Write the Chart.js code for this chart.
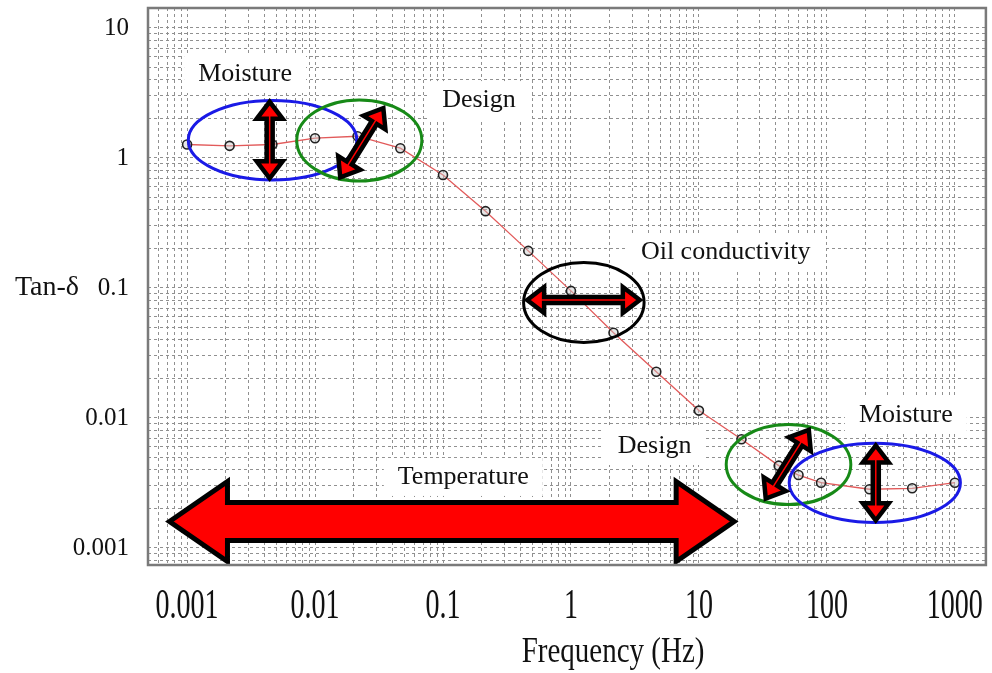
<!DOCTYPE html>
<html>
<head>
<meta charset="utf-8">
<title>Tan-δ against frequency</title>
<script src="https://cdn.jsdelivr.net/npm/chart.js@4.4.1/dist/chart.umd.min.js"></script>
<style>
    html, body { margin: 0; padding: 0; background: #fff; }
    #wrap { width: 992px; height: 673px; }
</style>
</head>
<body>
<div id="wrap"><canvas id="tanDeltaChart" width="992" height="673"></canvas></div>
<script>
/* Dielectric frequency response: tan-delta vs frequency (log-log) */

// measured sweep
const frequencyHz = [0.001, 0.00215, 0.00464, 0.01, 0.0215, 0.0464, 0.1, 0.215, 0.464, 1,
                     2.15, 4.64, 10, 21.5, 42, 60, 90, 215, 464, 1000];
const tanDelta = [1.27, 1.24, 1.27, 1.42, 1.47, 1.19, 0.74, 0.39, 0.193, 0.095,
                  0.0453, 0.0227, 0.0114, 0.00686, 0.0043, 0.00364, 0.00318, 0.00283, 0.00288, 0.00318];

// decade labels
const xTickValues = [0.001, 0.01, 0.1, 1, 10, 100, 1000];
const xTickLabels = ['0.001', '0.01', '0.1', '1', '10', '100', '1000'];
const yTickValues = [0.001, 0.01, 0.1, 1, 10];
const yTickLabels = ['0.001', '0.01', '0.1', '1', '10'];

(function() {
    'use strict';

    const X_MIN = 0.000495, X_MAX = 1748;
    const Y_MIN = 0.00074, Y_MAX = 14.25;
    const SERIF = '"Liberation Serif", "Times New Roman", serif';

    // influence regions, in data units (frequency range, tan-delta range)
    const regionRings = [
        { x: [0.000995, 0.0218], y: [0.660, 2.84], color: '#1a1ae6' },
        { x: [0.0070, 0.0702], y: [0.648, 2.87], color: '#178a17' },
        { x: [0.415, 3.83], y: [0.0371, 0.161], color: '#000000' },
        { x: [15.9, 158], y: [0.0021, 0.00915], color: '#178a17' },
        { x: [49.4, 1135], y: [0.00153, 0.00657], color: '#1a1ae6' }
    ];

    // double arrows, tip to tip
    const factorArrows = [
        { from: [0.00442, 0.654], to: [0.00442, 2.89], big: false },
        { from: [0.0152, 0.671], to: [0.0354, 2.56], big: false },
        { from: [0.425, 0.0809], to: [3.69, 0.0809], big: false },
        { from: [32.1, 0.00227], to: [74.8, 0.00857], big: false },
        { from: [241, 0.00153], to: [241, 0.00657], big: false },
        { from: [0.000673, 0.0016], to: [20.4, 0.0016], big: true }
    ];

    const factorLabels = [
        { text: 'Moisture', at: [0.00284, 4.43] },
        { text: 'Design', at: [0.191, 2.79] },
        { text: 'Oil conductivity', at: [16.2, 0.189] },
        { text: 'Temperature', at: [0.144, 0.00352] },
        { text: 'Design', at: [4.5, 0.00609] },
        { text: 'Moisture', at: [414, 0.01055] }
    ];

    // 1..9 x 10^n lines inside the range
    function logGrid(min, max) {
        const ticks = [];
        for (let e = Math.floor(Math.log10(min)); e <= Math.ceil(Math.log10(max)); e++) {
            for (let k = 1; k <= 9; k++) {
                const v = k * Math.pow(10, e);
                if (v > min && v < max) ticks.push({ value: v });
            }
        }
        return ticks;
    }

    function drawArrow(ctx, x1, y1, x2, y2, big) {
        const shaft = big ? 19 : 3;
        const head = big ? 40 : 13;
        const headLen = big ? 58 : 17;
        const lw = big ? 5 : 4.5;
        // pull the tips in so the mitred outline ends on the given points
        const inset = (lw / 2) / Math.sin(Math.atan2(head, headLen));
        const ang = Math.atan2(y2 - y1, x2 - x1);
        const len = Math.hypot(x2 - x1, y2 - y1) - 2 * inset;

        ctx.save();
        ctx.translate(x1 + inset * Math.cos(ang), y1 + inset * Math.sin(ang));
        ctx.rotate(ang);
        ctx.beginPath();
        ctx.moveTo(0, 0);
        ctx.lineTo(headLen, -head);
        ctx.lineTo(headLen, -shaft);
        ctx.lineTo(len - headLen, -shaft);
        ctx.lineTo(len - headLen, -head);
        ctx.lineTo(len, 0);
        ctx.lineTo(len - headLen, head);
        ctx.lineTo(len - headLen, shaft);
        ctx.lineTo(headLen, shaft);
        ctx.lineTo(headLen, head);
        ctx.closePath();
        ctx.fillStyle = '#ff0000';
        ctx.fill();
        ctx.lineJoin = 'miter';
        ctx.miterLimit = 10;
        ctx.lineWidth = lw;
        ctx.strokeStyle = '#000';
        ctx.stroke();
        ctx.restore();
    }

    function stretchedText(ctx, text, x, y, sy) {
        ctx.save();
        ctx.translate(x, y);
        ctx.scale(1, sy);
        ctx.fillText(text, 0, 0);
        ctx.restore();
    }

    const factorMarks = {
        id: 'factorMarks',
        beforeDatasetsDraw(chart) {
            // white patches behind the factor names
            const ctx = chart.ctx;
            const xs = chart.scales.x, ys = chart.scales.y;
            ctx.save();
            ctx.font = '26px ' + SERIF;
            ctx.fillStyle = '#fff';
            factorLabels.forEach(function(l) {
                const w = ctx.measureText(l.text).width + 28;
                const cx = xs.getPixelForValue(l.at[0]);
                const cy = ys.getPixelForValue(l.at[1]);
                ctx.fillRect(cx - w / 2, cy - 19, w, 38);
            });
            ctx.restore();
        },
        afterDatasetsDraw(chart) {
            const ctx = chart.ctx;
            const xs = chart.scales.x, ys = chart.scales.y;
            const area = chart.chartArea;

            ctx.save();
            regionRings.forEach(function(r) {
                const l = xs.getPixelForValue(r.x[0]), rt = xs.getPixelForValue(r.x[1]);
                const t = ys.getPixelForValue(r.y[1]), b = ys.getPixelForValue(r.y[0]);
                ctx.beginPath();
                ctx.ellipse((l + rt) / 2, (t + b) / 2, (rt - l) / 2 - 1.5, (b - t) / 2 - 1.5, 0, 0, Math.PI * 2);
                ctx.lineWidth = 3;
                ctx.strokeStyle = r.color;
                ctx.stroke();
            });

            factorArrows.forEach(function(a) {
                drawArrow(ctx,
                    xs.getPixelForValue(a.from[0]), ys.getPixelForValue(a.from[1]),
                    xs.getPixelForValue(a.to[0]), ys.getPixelForValue(a.to[1]), a.big);
            });

            ctx.font = '26px ' + SERIF;
            ctx.fillStyle = '#111';
            ctx.textAlign = 'center';
            ctx.textBaseline = 'middle';
            factorLabels.forEach(function(l) {
                ctx.fillText(l.text, xs.getPixelForValue(l.at[0]), ys.getPixelForValue(l.at[1]));
            });

            // plot frame
            ctx.lineWidth = 2.5;
            ctx.strokeStyle = '#7a7a7a';
            ctx.strokeRect(area.left, area.top, area.right - area.left, area.bottom - area.top);
            ctx.restore();
        },
        afterDraw(chart) {
            const ctx = chart.ctx;
            const xs = chart.scales.x, ys = chart.scales.y;
            const area = chart.chartArea;

            ctx.save();
            ctx.fillStyle = '#111';
            ctx.textAlign = 'center';
            ctx.textBaseline = 'middle';

            ctx.font = '28px ' + SERIF;
            xTickValues.forEach(function(v, i) {
                stretchedText(ctx, xTickLabels[i], xs.getPixelForValue(v), area.bottom + 42, 1.5);
            });

            ctx.font = '29px ' + SERIF;
            stretchedText(ctx, 'Frequency (Hz)', area.left + (area.right - area.left) * 0.555, 653, 1.2);

            ctx.font = '28px ' + SERIF;
            ctx.fillText('Tan-δ', 47, ys.getPixelForValue(0.1));
            ctx.restore();
        }
    };

    const gridStyle = { color: '#909090', lineWidth: 1, drawTicks: false };
    const gridBorder = { display: false, dash: [3, 3] };

    document.addEventListener('DOMContentLoaded', function() {
        const ctx = document.getElementById('tanDeltaChart');

        new Chart(ctx, {
            type: 'line',
            data: {
                datasets: [{
                    data: frequencyHz.map(function(f, i) { return { x: f, y: tanDelta[i] }; }),
                    borderColor: '#e25a5a',
                    borderWidth: 1.3,
                    tension: 0,
                    pointRadius: 4.5,
                    pointBorderWidth: 1.6,
                    pointBorderColor: '#222',
                    pointBackgroundColor: 'rgba(200, 200, 200, 0.45)'
                }]
            },
            options: {
                responsive: false,
                animation: false,
                layout: { padding: { left: 0, top: 8, right: 6, bottom: 0 } },
                plugins: {
                    legend: { display: false },
                    tooltip: { enabled: false }
                },
                scales: {
                    x: {
                        type: 'logarithmic',
                        min: X_MIN,
                        max: X_MAX,
                        afterBuildTicks: function(scale) { scale.ticks = logGrid(X_MIN, X_MAX); },
                        afterFit: function(scale) {
                            scale.height = 108;
                            scale.paddingLeft = 0;
                            scale.paddingRight = 0;
                        },
                        grid: gridStyle,
                        border: gridBorder,
                        ticks: { display: false, autoSkip: false }
                    },
                    y: {
                        type: 'logarithmic',
                        min: Y_MIN,
                        max: Y_MAX,
                        afterBuildTicks: function(scale) { scale.ticks = logGrid(Y_MIN, Y_MAX); },
                        afterFit: function(scale) {
                            scale.width = 148;
                            scale.paddingTop = 0;
                            scale.paddingBottom = 0;
                        },
                        grid: gridStyle,
                        border: gridBorder,
                        ticks: {
                            autoSkip: false,
                            padding: 19,
                            color: '#111',
                            font: { family: SERIF, size: 25 },
                            callback: function(value) {
                                const i = yTickValues.findIndex(function(v) { return Math.abs(v - value) / v < 1e-6; });
                                return i >= 0 ? yTickLabels[i] : '';
                            }
                        }
                    }
                }
            },
            plugins: [factorMarks]
        });
    });
})();
</script>
</body>
</html>
